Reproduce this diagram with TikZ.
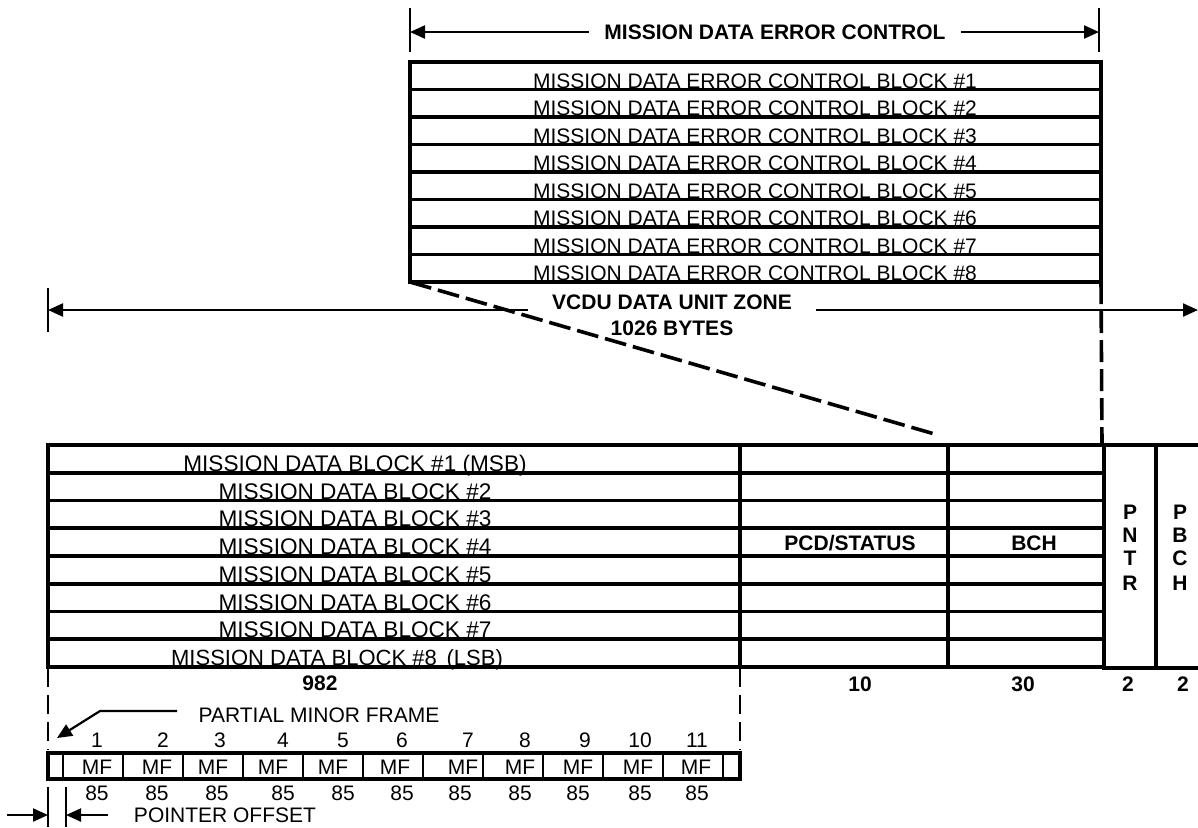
\documentclass[tikz,border=0pt]{standalone}
\usepackage{fontspec}
\setmainfont{Liberation Sans}
\usetikzlibrary{arrows.meta}
\begin{document}
\begin{tikzpicture}[x=0.5pt,y=-0.5pt,
  box/.style={line width=1.8pt},
  divider/.style={line width=1.4pt},
  thinline/.style={line width=1.1pt},
  arr/.style={line width=1.1pt,-{Triangle[length=7.5pt,width=6.5pt]}},
  dsh/.style={line width=1.8pt,dash pattern=on 11pt off 3.5pt},
  dshthin/.style={line width=1.1pt,dash pattern=on 9.5pt off 4pt},
  lbl/.style={inner sep=0pt,font=\fontsize{10.5}{12}\selectfont},
  blbl/.style={inner sep=0pt,font=\fontsize{10.5}{12}\selectfont\bfseries},
  rowtxt/.style={inner sep=0pt,anchor=base,font=\fontsize{10.5}{12}\selectfont},
  rowtxtb/.style={inner sep=0pt,anchor=base,font=\fontsize{11.3}{12}\selectfont}]
\useasboundingbox (0,0) rectangle (1198,827);

% ---------- top dimension: mission data error control
\draw[thinline] (410,8) -- (410,52);
\draw[thinline] (1099,8) -- (1099,52);
\coordinate (ecL) at (410,32);
\coordinate (ecR) at (1099,32);
\node[blbl,inner xsep=7.5pt] (ec) at (775,32) {MISSION DATA ERROR CONTROL};
\draw[arr] (ec.west) -- (ecL);
\draw[arr] (ec.east) -- (ecR);

% ---------- error control blocks
\draw[box] (410,62) rectangle (1101,282);
\foreach \k in {1,...,7}{\draw[box] (410,{62+27.5*\k}) -- (1101,{62+27.5*\k});}
\foreach \i in {1,...,8}{
  \node[rowtxt] (ecb\i) at (755,{62+27.5*\i-1.5}) {MISSION DATA ERROR CONTROL BLOCK \#\i};
}

% ---------- dashed expansion lines
\coordinate (tbl) at (410,282);
\coordinate (dEnd) at (938,435);
\coordinate (tbr) at (1101,282);
\coordinate (pntrTop) at (1102,445);
\draw[dsh] (tbl) -- (dEnd);
\draw[dsh] (tbr) -- (pntrTop);

% ---------- VCDU dimension
\draw[thinline] (48,288) -- (48,332);
\coordinate (vL) at (48,310);
\coordinate (vR) at (1198,310);
\node[blbl,inner xsep=12pt] (vcdu1) at (672,302) {VCDU DATA UNIT ZONE};
\node[blbl] (vcdu2) at (672,328) {1026 BYTES};
\draw[arr] (vcdu1.west |- vL) -- (vL);
\draw[arr] (vcdu1.east |- vR) -- (vR);

% ---------- lower table
\draw[box] (48,445) rectangle (1104,667);
\foreach \k in {1,...,7}{\draw[box] (48,{445+27.75*\k}) -- (1104,{445+27.75*\k});}
\draw[box] (740,445) -- (740,667);
\draw[box] (948,445) -- (948,667);
\draw[box] (1104,445) -- (1198,445) (1104,445) -- (1104,668) -- (1198,668) (1156,445) -- (1156,668);

\node[rowtxtb] (mdb1) at (355,{445+27.75*1-1.5}) {MISSION DATA BLOCK \#1 (MSB)};
\foreach \i in {2,...,7}{
  \node[rowtxtb] (mdb\i) at (355,{445+27.75*\i-1.5}) {MISSION DATA BLOCK \#\i};
}
\node[rowtxtb,font=\fontsize{11}{12}\selectfont] (mdb8) at (337,{445+27.75*8-1.5}) {MISSION DATA BLOCK \#8 \,(LSB)};

\node[blbl] (pcd) at (850,543) {PCD/STATUS};
\node[blbl] (bch) at (1034,543) {BCH};
\node[blbl] (pn1) at (1130,512) {P};
\node[blbl] (pn2) at (1130,535) {N};
\node[blbl] (pn3) at (1130,558) {T};
\node[blbl] (pn4) at (1130,583) {R};
\node[blbl] (pb1) at (1180,512) {P};
\node[blbl] (pb2) at (1180,535) {B};
\node[blbl] (pb3) at (1180,558) {C};
\node[blbl] (pb4) at (1180,583) {H};

\node[blbl] (n982) at (320,683) {982};
\node[blbl] (n10) at (860,684) {10};
\node[blbl] (n30) at (1023,684) {30};
\node[blbl] (n2a) at (1128,684) {2};
\node[blbl] (n2b) at (1183,684) {2};

% ---------- dashed verticals to minor frames
\coordinate (dl1) at (48,668); \coordinate (dl2) at (48,750);
\coordinate (dr1) at (740,668); \coordinate (dr2) at (740,750);
\draw[dshthin] (dl1) -- (dl2);
\draw[dshthin] (dr1) -- (dr2);

% ---------- minor frame row
\draw[box] (48,753) rectangle (740,779);
\foreach \k in {0,...,11}{\draw[divider] ({63+60*\k},753) -- ({63+60*\k},779);}
\foreach \i/\xn/\xm/\xf in {1/97/97/97,2/163/157/157,3/220/213/217,4/283/273/283,5/343/333/343,6/402/395/402,7/468/463/460,8/525/520/520,9/585/578/578,10/640/638/640,11/697/696/697}{
  \node[lbl] (num\i) at (\xn,740) {\i};
  \node[lbl] (mf\i) at (\xm,767) {MF};
  \node[lbl] (b\i) at (\xf,793) {85};
}

% ---------- partial minor frame
\node[lbl] (pmf) at (319,715) {PARTIAL MINOR FRAME};
\coordinate (pmfA) at (177,711);
\coordinate (pmfB) at (100,711);
\coordinate (pmfTip) at (57,738);
\draw[arr] (pmfA) -- (pmfB) -- (pmfTip);

% ---------- pointer offset
\draw[thinline] (48,787) -- (48,827);
\draw[thinline] (66,787) -- (66,827);
\node[lbl] (po) at (225,815) {POINTER OFFSET};
\coordinate (poA) at (7,815); \coordinate (poAt) at (48,815);
\coordinate (poB) at (108,815); \coordinate (poBt) at (66,815);
\draw[arr] (poA) -- (poAt);
\draw[arr] (poB) -- (poBt);
\end{tikzpicture}
\end{document}
